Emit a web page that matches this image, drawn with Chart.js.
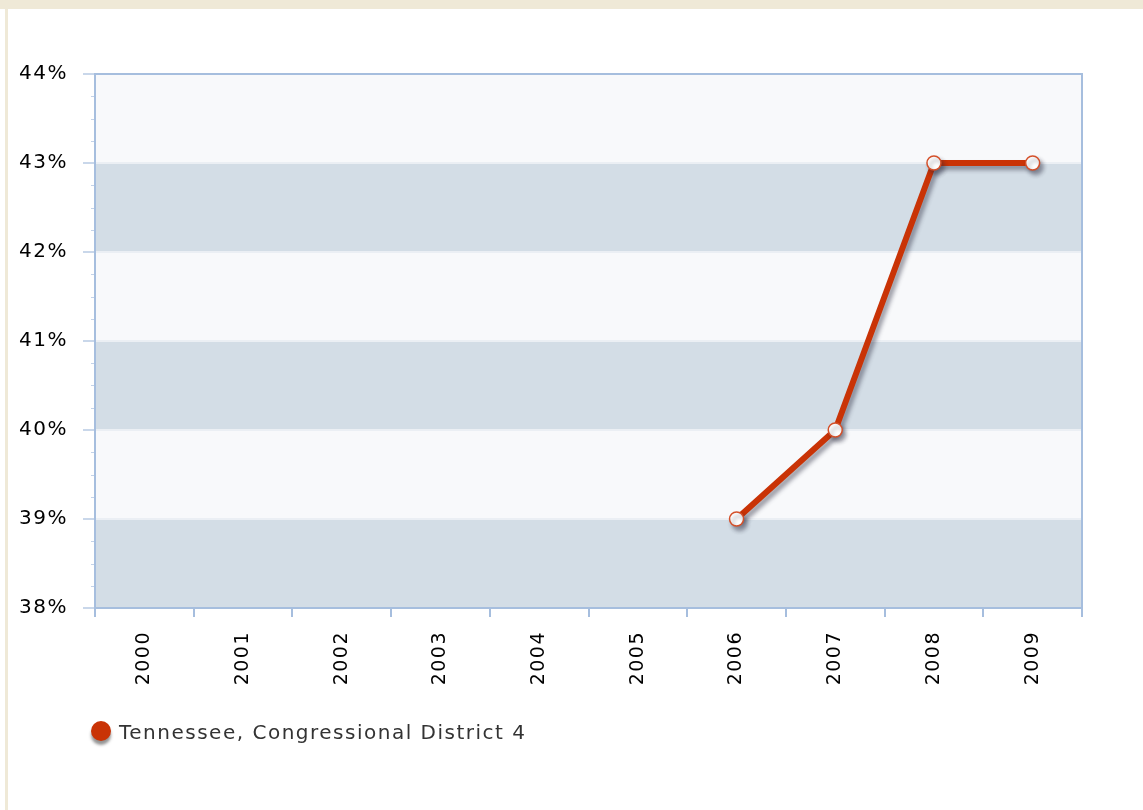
<!DOCTYPE html>
<html>
<head>
<meta charset="utf-8">
<title>Tennessee, Congressional District 4</title>
<script src="https://cdn.jsdelivr.net/npm/chart.js@4.4.0/dist/chart.umd.min.js"></script>
<style>
  html, body { margin: 0; padding: 0; background: #ffffff; }
  #wrap { position: relative; width: 1143px; height: 810px; }
  canvas { display: block; }
</style>
</head>
<body>
<div id="wrap"><canvas id="chart" width="1143" height="810"></canvas></div>
<script>
// Yearly share (percent) for the district; years without a value stay empty.
const years = ['2000', '2001', '2002', '2003', '2004', '2005', '2006', '2007', '2008', '2009'];
const shareValues = [null, null, null, null, null, null, 39, 40, 43, 43];
const seriesName = 'Tennessee, Congressional District 4';
const yMin = 38;
const yMax = 44;
const yStep = 1;

const AXIS = '#a6bede';
const MINOR = '#c3d2e8';
const BAND_DARK = '#d3dde6';
const BAND_LIGHT = '#f8f9fb';
const BAND_EDGE = '#ebeff4';
const LINE_RED = '#c93306';
const FRAME = '#efe9d7';

// Page frame, striped plot background, axis lines and tick marks
const framePlugin = {
  id: 'framePlugin',
  beforeDraw(chart) {
    const { ctx, chartArea: a, scales: { x, y } } = chart;
    ctx.save();
    ctx.fillStyle = '#ffffff';
    ctx.fillRect(0, 0, chart.width, chart.height);
    ctx.fillStyle = FRAME;
    ctx.fillRect(0, 0, chart.width, 9);
    ctx.fillRect(5, 0, 3, chart.height);

    // alternating horizontal bands, one per unit step
    for (let v = yMin; v < yMax; v += yStep) {
      const yb = y.getPixelForValue(v);
      const yt = y.getPixelForValue(v + yStep);
      const idx = Math.round((v - yMin) / yStep);
      ctx.fillStyle = idx % 2 === 0 ? BAND_DARK : BAND_LIGHT;
      ctx.fillRect(a.left, yt, a.right - a.left, yb - yt);
    }
    ctx.fillStyle = BAND_EDGE;
    for (let v = yMin + yStep; v < yMax; v += yStep) {
      const yp = Math.round(y.getPixelForValue(v));
      ctx.fillRect(a.left, yp - 1, a.right - a.left, 2);
    }

    // minor ticks on the value axis (quarter steps)
    ctx.fillStyle = MINOR;
    for (let v = yMin; v < yMax; v += yStep) {
      for (let q = 1; q < 4; q++) {
        const yp = Math.round(y.getPixelForValue(v + q * yStep / 4));
        ctx.fillRect(a.left - 4, yp, 4, 1);
      }
    }
    // major ticks on the value axis
    ctx.fillStyle = '#c9d7ea';
    for (let v = yMin; v <= yMax; v += yStep) {
      const yp = Math.round(y.getPixelForValue(v));
      ctx.fillRect(a.left - 12, yp - 1, 12, 2);
    }

    // category boundary ticks below the axis
    const p0 = x.getPixelForValue(0);
    const w = x.getPixelForValue(1) - p0;
    ctx.fillStyle = AXIS;
    for (let k = 0; k <= years.length; k++) {
      const xp = Math.round(p0 - w / 2 + k * w);
      ctx.fillRect(xp - 1, a.bottom, 2, 9);
    }

    // plot outline
    ctx.fillRect(a.left - 1, a.top - 1, 2, a.bottom - a.top + 10);
    ctx.fillRect(a.right - 1, a.top - 1, 2, a.bottom - a.top + 10);
    ctx.fillRect(a.left - 1, a.top - 1, a.right - a.left + 1, 2);
    ctx.fillRect(a.left - 1, Math.round(a.bottom) - 1, a.right - a.left + 1, 2);
    ctx.restore();
    ctx.letterSpacing = '1.5px';
  },
  beforeDatasetsDraw(chart) {
    const ctx = chart.ctx;
    ctx.save();
    ctx.shadowColor = 'rgba(40, 40, 60, 0.45)';
    ctx.shadowBlur = 4;
    ctx.shadowOffsetX = 3;
    ctx.shadowOffsetY = 4;
  },
  afterDatasetsDraw(chart) {
    chart.ctx.restore();
  },
  afterDraw(chart) {
    // series key under the axis
    const ctx = chart.ctx;
    const ds = chart.data.datasets[0];
    ctx.save();
    ctx.shadowColor = 'rgba(60, 60, 60, 0.55)';
    ctx.shadowBlur = 3;
    ctx.shadowOffsetX = 0;
    ctx.shadowOffsetY = 4;
    ctx.fillStyle = ds.borderColor;
    ctx.beginPath();
    ctx.arc(101, 731, 10, 0, Math.PI * 2);
    ctx.fill();
    ctx.restore();
    ctx.save();
    ctx.letterSpacing = '1.5px';
    ctx.fillStyle = '#333333';
    ctx.font = '20px "DejaVu Sans"';
    ctx.textBaseline = 'alphabetic';
    ctx.textAlign = 'left';
    ctx.fillText(ds.label, 119, 739);
    ctx.restore();
  }
};

new Chart(document.getElementById('chart'), {
  type: 'line',
  data: {
    labels: years,
    datasets: [{
      label: seriesName,
      data: shareValues,
      borderColor: LINE_RED,
      borderWidth: 6,
      pointRadius: 7,
      pointBorderWidth: 1.5,
      pointBackgroundColor: '#ffffff',
      pointBorderColor: '#d4502a',
      tension: 0,
      spanGaps: false,
      clip: false
    }]
  },
  options: {
    responsive: false,
    devicePixelRatio: 1,
    animation: false,
    events: [],
    layout: { padding: { left: 0, top: 74, right: 61, bottom: 0 } },
    plugins: { legend: { display: false }, tooltip: { enabled: false } },
    scales: {
      x: {
        type: 'category',
        offset: true,
        grid: { display: false, drawTicks: false },
        border: { display: false },
        ticks: {
          minRotation: 90,
          maxRotation: 90,
          padding: 23,
          color: '#000000',
          font: { family: 'DejaVu Sans', size: 19 }
        },
        afterFit(scale) { scale.height = 202; }
      },
      y: {
        min: yMin,
        max: yMax,
        grid: { display: false, drawTicks: false },
        border: { display: false },
        ticks: {
          stepSize: yStep,
          padding: 27,
          color: '#000000',
          font: { family: 'DejaVu Sans', size: 20 },
          callback: (v) => v + '%'
        },
        afterFit(scale) { scale.width = 95; }
      }
    }
  },
  plugins: [framePlugin]
});
</script>
</body>
</html>
